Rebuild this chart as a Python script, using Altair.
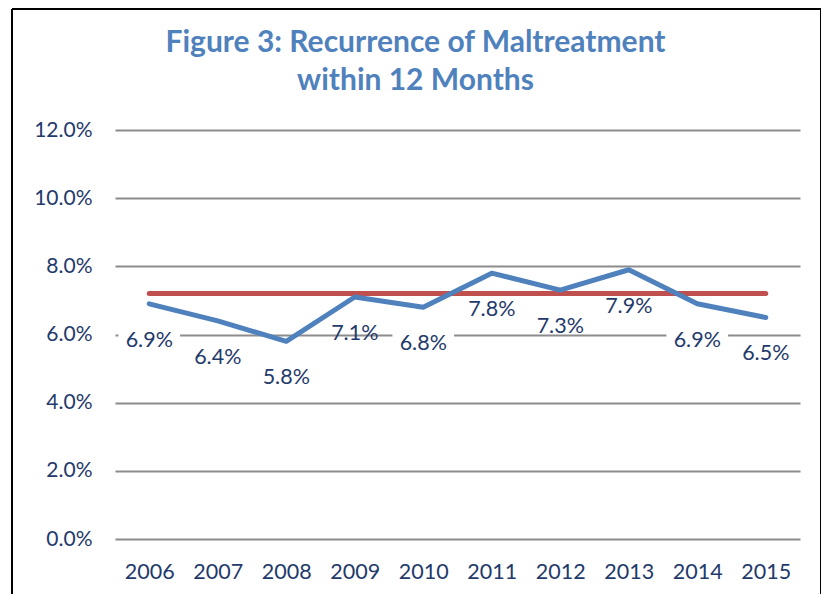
import altair as alt
import pandas as pd

years = ["2006", "2007", "2008", "2009", "2010", "2011", "2012", "2013", "2014", "2015"]
rates = [0.069, 0.064, 0.058, 0.071, 0.068, 0.078, 0.073, 0.079, 0.069, 0.065]
labels = ["6.9%", "6.4%", "5.8%", "7.1%", "6.8%", "7.8%", "7.3%", "7.9%", "6.9%", "6.5%"]
benchmark = [0.072, 0.072, 0.072, 0.072, 0.072, 0.072, 0.072, 0.072, 0.072, 0.072]
y_ticks = [0.0, 0.02, 0.04, 0.06, 0.08, 0.10, 0.12]

FONT = "Lato"
NAVY = "#1F3A6B"

df = pd.DataFrame({"year": years, "rate": rates, "label": labels, "benchmark": benchmark})

x_enc = alt.X(
    "year:N",
    sort=years,
    scale=alt.Scale(type="point", padding=0.5),
    axis=alt.Axis(
        title=None, labelAngle=0, domain=False, ticks=False, grid=False,
        labelFont=FONT, labelFontSize=21.5, labelColor=NAVY, labelPadding=22,
    ),
)
y_scale = alt.Scale(domain=[0, 0.12], nice=False)
y_axis = alt.Axis(
    title=None, values=y_ticks, format=".1%", domain=False, ticks=False,
    grid=True, gridColor="#8C8C8C", gridWidth=2,
    labelFont=FONT, labelFontSize=21, labelColor=NAVY, labelPadding=23,
)

base = alt.Chart(df)

grid_layer = base.mark_line(opacity=0).encode(
    x=x_enc, y=alt.Y("rate:Q", scale=y_scale, axis=y_axis)
)

# white label backgrounds (break the gridline behind the label text)
boxes = base.mark_point(
    shape="M-1,-0.2L1,-0.2L1,0.2L-1,0.2Z", filled=True, color="white",
    opacity=1, size=3800, yOffset=28,
).encode(x=alt.X("year:N", sort=years), y=alt.Y("rate:Q"))

bench = base.mark_line(color="#C0504D", strokeWidth=5, strokeCap="round").encode(
    x=alt.X("year:N", sort=years), y=alt.Y("benchmark:Q")
)

line = base.mark_line(color="#4F81BD", strokeWidth=5, strokeCap="round", strokeJoin="round").encode(
    x=alt.X("year:N", sort=years), y=alt.Y("rate:Q")
)

text = base.mark_text(
    font=FONT, fontSize=21.5, color=NAVY, dy=37, baseline="middle", align="center"
).encode(x=alt.X("year:N", sort=years), y=alt.Y("rate:Q"), text="label:N")

frame_data = alt.Data(values=[{"k": 1}])
left_b = alt.Chart(frame_data).mark_rule(color="black", strokeWidth=2).encode(
    x=alt.value(-103), y=alt.value(-121), y2=alt.value(500)
)
top_b = alt.Chart(frame_data).mark_rule(color="black", strokeWidth=2).encode(
    x=alt.value(-103), x2=alt.value(706), y=alt.value(-121)
)
right_b = alt.Chart(frame_data).mark_rule(color="black", strokeWidth=2).encode(
    x=alt.value(706), y=alt.value(-121), y2=alt.value(500)
)

chart = alt.layer(grid_layer, boxes, bench, line, text, left_b, top_b, right_b).properties(
    width=685,
    height=409,
    autosize=alt.AutoSizeParams(type="none"),
    padding={"left": 107, "top": 122, "right": 21, "bottom": 55},
    background="white",
    title=alt.TitleParams(
        text=["Figure 3: Recurrence of Maltreatment", "within 12 Months"],
        font=FONT, fontSize=30, fontWeight="bold", color="#4F81BD",
        anchor="middle", frame="group", dx=-42, dy=124, lineHeight=38, offset=36,
    ),
).configure_view(stroke=None)

chart.save("out.html", embed_options={"renderer": "svg", "actions": False})
